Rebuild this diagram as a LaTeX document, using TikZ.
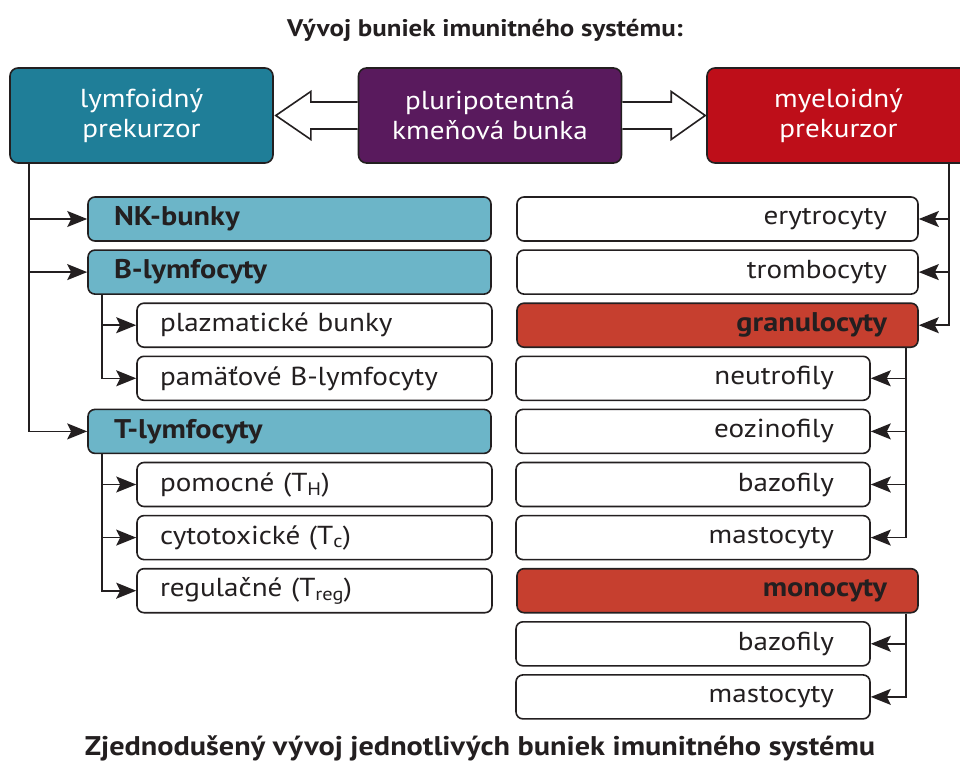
\documentclass[tikz,border=0pt]{standalone}
\usepackage{fontspec}
\setmainfont{PT Sans}[FakeStretch=1.12]
\usetikzlibrary{arrows.meta,calc}
\definecolor{linec}{HTML}{231F20}
\definecolor{lymc}{HTML}{1F7E98}
\definecolor{pluric}{HTML}{591A5D}
\definecolor{myelc}{HTML}{BE0E19}
\definecolor{lightteal}{HTML}{6CB5C8}
\definecolor{redbox}{HTML}{C63F2F}
\tikzset{
  topbox/.style={draw=linec, line width=1.6pt, rounded corners=8pt, minimum width=263pt, minimum height=95pt, text=white, align=center, font=\fontsize{26}{30}\selectfont},
  cell/.style={draw=linec, line width=1.6pt, rounded corners=7pt, minimum height=44pt, fill=white, text=linec, font=\fontsize{26}{30}\selectfont},
  mainL/.style={cell, fill=lightteal, text width=351pt, inner xsep=26pt, align=left, font=\fontsize{27}{30}\selectfont\bfseries},
  subL/.style={cell, text width=309pt, inner xsep=23pt, align=left},
  mainR/.style={cell, text width=339pt, inner xsep=31pt, align=right},
  redR/.style={mainR, fill=redbox, font=\fontsize{27}{30}\selectfont\bfseries},
  subR/.style={cell, text width=282pt, inner xsep=36pt, align=right},
  arr/.style={draw=linec, line width=1.6pt, -{Stealth[length=20pt,width=16pt,inset=4pt]}},
  hollow/.style={draw=linec, line width=1.6pt, fill=white, line join=miter}
}
\begin{document}
\begin{tikzpicture}[x=1pt,y=-1pt]
\useasboundingbox (0,0) rectangle (960,768);
\node[font=\fontsize{24}{28}\selectfont\bfseries, text=linec] (title) at (485,30) {Vývoj buniek imunitného systému:};
\node[font=\fontsize{27}{32}\selectfont\bfseries, text=linec] (caption) at (480,748) {Zjednodušený vývoj jednotlivých buniek imunitného systému};

\node[topbox, fill=lymc] (lym) at (141.5,115.5) {lymfoidný\\prekurzor};
\node[topbox, fill=pluric] (pluri) at (490,115.5) {pluripotentná\\kmeňová bunka};
\node[topbox, fill=myelc] (myel) at (838.5,115.5) {myeloidný\\prekurzor};

% hollow arrows
\draw[hollow] ($(pluri.west)+(0,-13.5)$) -- ($(lym.east)+(37,-13.5)$) -- ($(lym.east)+(37,-24)$) -- ($(lym.east)+(2,0)$) -- ($(lym.east)+(37,24)$) -- ($(lym.east)+(37,13.5)$) -- ($(pluri.west)+(0,13.5)$);
\draw[hollow] ($(pluri.east)+(0,-13.5)$) -- ($(myel.west)+(-35,-13.5)$) -- ($(myel.west)+(-35,-24)$) -- ($(myel.west)+(-1,0)$) -- ($(myel.west)+(-35,24)$) -- ($(myel.west)+(-35,13.5)$) -- ($(pluri.east)+(0,13.5)$);

% left column
\node[mainL] (nk) at (289.5,219) {NK-bunky};
\node[mainL] (blym) at (289.5,272.1) {B-lymfocyty};
\node[subL] (plaz) at (314.5,325.2) {plazmatické bunky};
\node[subL] (pam) at (314.5,378.3) {pamäťové B-lymfocyty};
\node[mainL] (tlym) at (289.5,431.4) {T-lymfocyty};
\node[subL] (pom) at (314.5,484.5) {pomocné (T\textsubscript{H})};
\node[subL] (cyt) at (314.5,537.6) {cytotoxické (T\textsubscript{c})};
\node[subL] (reg) at (314.5,590.7) {regulačné (T\textsubscript{reg})};

% right column
\node[mainR] (ery) at (717.5,219) {erytrocyty};
\node[mainR] (trom) at (717.5,272.1) {trombocyty};
\node[redR] (gran) at (717.5,325.2) {granulocyty};
\node[subR] (neu) at (693,378.3) {neutrofily};
\node[subR] (eoz) at (693,431.4) {eozinofily};
\node[subR] (baz) at (693,484.5) {bazofily};
\node[subR] (mas) at (693,537.6) {mastocyty};
\node[redR] (mono) at (717.5,590.7) {monocyty};
\node[subR] (baz2) at (693,643.8) {bazofily};
\node[subR] (mas2) at (693,696.9) {mastocyty};

% connectors left
\draw[arr] ($(lym.south west)+(20,0)$) |- (nk.west);
\draw[arr] ($(lym.south west)+(20,0)$) |- (blym.west);
\draw[arr] ($(lym.south west)+(20,0)$) |- (tlym.west);
\draw[arr] ($(blym.south west)+(15,0)$) |- (plaz.west);
\draw[arr] ($(blym.south west)+(15,0)$) |- (pam.west);
\draw[arr] ($(tlym.south west)+(15,0)$) |- (pom.west);
\draw[arr] ($(tlym.south west)+(15,0)$) |- (cyt.west);
\draw[arr] ($(tlym.south west)+(15,0)$) |- (reg.west);

% connectors right
\draw[arr] ($(myel.south west)+(243,0)$) |- (ery.east);
\draw[arr] ($(myel.south west)+(243,0)$) |- (trom.east);
\draw[arr] ($(myel.south west)+(243,0)$) |- (gran.east);
\draw[arr] ($(gran.south east)+(-13,0)$) |- (neu.east);
\draw[arr] ($(gran.south east)+(-13,0)$) |- (eoz.east);
\draw[arr] ($(gran.south east)+(-13,0)$) |- (baz.east);
\draw[arr] ($(gran.south east)+(-13,0)$) |- (mas.east);
\draw[arr] ($(mono.south east)+(-13,0)$) |- (baz2.east);
\draw[arr] ($(mono.south east)+(-13,0)$) |- (mas2.east);
\end{tikzpicture}
\end{document}
